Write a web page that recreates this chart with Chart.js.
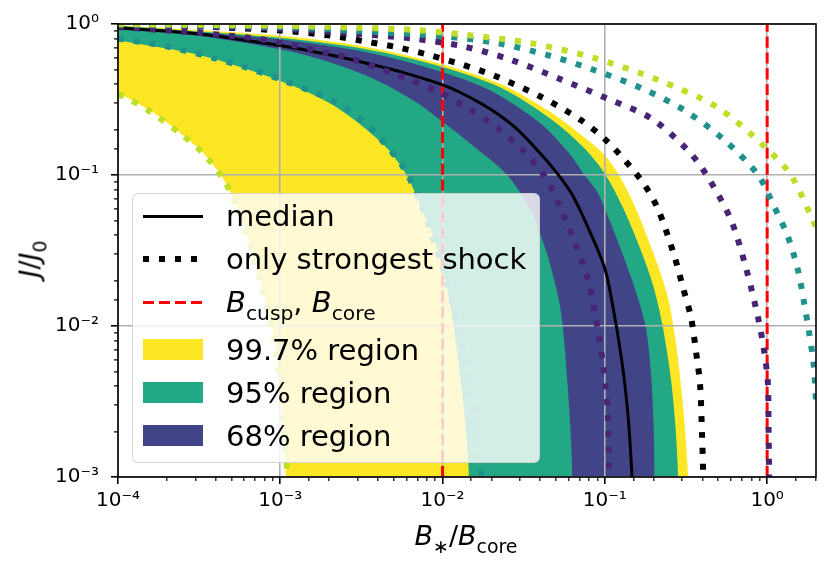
<!DOCTYPE html>
<html>
<head>
<meta charset="utf-8">
<script src="https://cdn.jsdelivr.net/npm/chart.js@4.4.1/dist/chart.umd.min.js"></script>
<style>
  body { margin: 0; background: #fff; }
  #wrap { position: relative; width: 831px; height: 568px; font-family: 'DejaVu Sans', sans-serif; color: #000; }
  #jChart { position: absolute; left: 0; top: 0; }
  sub { font-size: 70%; vertical-align: -0.4em; line-height: 0; font-style: normal; }
  #yTitle, #xTitle { position: absolute; font-size: 27px; line-height: 1; white-space: nowrap; }
  #yTitle { left: 29px; top: 259px; transform: translate(-50%, -50%) rotate(-90deg); }
  #xTitle { left: 466px; top: 522px; transform: translateX(-50%); }
  #legend { position: absolute; left: 132px; top: 193px; width: 408px; height: 270px; box-sizing: border-box;
            background: rgba(255,255,255,0.8); border: 1px solid rgba(204,204,204,0.8); border-radius: 6px; }
  .row { position: absolute; left: 0; height: 44px; display: flex; align-items: center; font-size: 29px; white-space: nowrap; }
  .h { display: block; width: 60px; margin-left: 9.7px; margin-right: 23.3px; }
  .solid { height: 3px; background: #000; }
  .dots { height: 6px; background: repeating-linear-gradient(90deg, #000 0 6px, transparent 6px 15.9px); }
  .dash { height: 3px; background: repeating-linear-gradient(90deg, #ff0000 0 11.1px, transparent 11.1px 15.9px); }
  .patch { height: 21px; }
</style>
</head>
<body>
<div id="wrap">
  <canvas id="jChart" width="831" height="568"></canvas>
  <div id="yTitle"><i>J</i>/<i>J</i><sub>0</sub></div>
  <div id="xTitle"><i>B</i><sub>∗</sub>/<i>B</i><sub>core</sub></div>
  <div id="legend">
    <div class="row" style="top:0px"><span class="h solid"></span><span>median</span></div>
    <div class="row" style="top:43px"><span class="h dots"></span><span>only strongest shock</span></div>
    <div class="row" style="top:86px"><span class="h dash"></span><span><i>B</i><sub>cusp</sub>, <i>B</i><sub>core</sub></span></div>
    <div class="row" style="top:133.5px"><span class="h patch" style="background:#fde725"></span><span>99.7% region</span></div>
    <div class="row" style="top:176.5px"><span class="h patch" style="background:#22a884"></span><span>95% region</span></div>
    <div class="row" style="top:219.5px"><span class="h patch" style="background:#414487"></span><span>68% region</span></div>
  </div>
</div>
<script>
// axis ranges and tick labels
const xSpan = [1e-4, 2];
const ySpan = [1e-3, 1];
const xTickVals = [1e-4, 1e-3, 1e-2, 1e-1, 1];
const xTickLabels = ['10⁻⁴', '10⁻³', '10⁻²', '10⁻¹', '10⁰'];
const yTickVals = [1e-3, 1e-2, 1e-1, 1];
const yTickLabels = ['10⁻³', '10⁻²', '10⁻¹', '10⁰'];

// B_cusp, B_core
const cuspCore = [0.01, 1];

// median of all shocks  [B*/Bcore, J/J0]
const median = [[1e-4,0.945],[3.16e-4,0.86],[1e-3,0.72],[2e-3,0.625],[3.16e-3,0.56],[5.6e-3,0.48],[0.01,0.395],
  [0.0141,0.335],[0.02,0.27],[0.0282,0.205],[0.0398,0.14],[0.05,0.105],[0.063,0.074],[0.0794,0.044],[0.1,0.024],
  [0.112,0.0135],[0.126,0.0063],[0.135,0.0035],[0.141,0.0021],[0.147,0.001],[0.149,0.0007]];

// credible regions: upper and lower edges
const upper997 = [[1e-4,0.98],[1e-3,0.835],[3.4e-3,0.705],[0.01,0.54],[0.0228,0.4],[0.0465,0.26],[0.0785,0.17],
  [0.1,0.135],[0.122,0.1],[0.15,0.065],[0.2,0.03],[0.244,0.0156],[0.274,0.0077],[0.302,0.0031],[0.324,0.0011],[0.328,0.0005]];
const lower997 = [[1e-4,0.35],[1.64e-4,0.26],[2.41e-4,0.19],[3.35e-4,0.14],[4.57e-4,0.09],[5.8e-4,0.05],
  [7.2e-4,0.0235],[9.1e-4,0.0085],[1.02e-3,0.0031],[1.08e-3,0.0011],[1.09e-3,0.0005]];
const upper95 = [[1e-4,0.975],[1e-3,0.81],[3.4e-3,0.68],[0.01,0.52],[0.0228,0.38],[0.0465,0.235],[0.075,0.15],
  [0.1,0.102],[0.13,0.06],[0.17,0.03],[0.2,0.018],[0.227,0.01],[0.255,0.0045],[0.272,0.0022],[0.283,0.001],[0.286,0.0005]];
const lower95 = [[1e-4,0.78],[3.2e-4,0.62],[1e-3,0.42],[2.12e-3,0.29],[4.3e-3,0.16],[6e-3,0.1],[7.5e-3,0.058],
  [8.8e-3,0.039],[0.0111,0.0142],[0.0134,0.0031],[0.0145,0.0011],[0.0147,0.0005]];
const upper68 = [[1e-4,0.965],[1e-3,0.79],[3.4e-3,0.65],[0.01,0.48],[0.02,0.36],[0.04,0.22],[0.06,0.14],[0.075,0.1],
  [0.09,0.077],[0.107,0.05],[0.13,0.029],[0.155,0.017],[0.178,0.01],[0.192,0.005],[0.2,0.0021],[0.202,0.001],[0.203,0.0005]];
const lower68 = [[1e-4,0.92],[3e-4,0.84],[1e-3,0.68],[2e-3,0.56],[4e-3,0.42],[7e-3,0.3],[0.01,0.225],[0.015,0.16],
  [0.025,0.1],[0.035,0.058],[0.042,0.035],[0.047,0.0235],[0.052,0.015],[0.055,0.01],[0.059,0.004],[0.062,0.0017],
  [0.063,0.001],[0.0633,0.0005]];

// only strongest shock: median and region edges
const strongMedian = [[1e-4,0.985],[3e-4,0.965],[1e-3,0.905],[2.08e-3,0.835],[3.37e-3,0.765],[5.3e-3,0.7],[8.4e-3,0.62],
  [0.0132,0.538],[0.0206,0.457],[0.0403,0.33],[0.0711,0.231],[0.104,0.166],[0.167,0.0927],[0.211,0.0605],[0.267,0.0295],
  [0.302,0.0182],[0.34,0.0113],[0.365,0.0067],[0.386,0.0041],[0.397,0.0019],[0.403,0.0011],[0.405,0.0007]];
const strongLow68 = [[1e-4,0.955],[2.5e-4,0.89],[6.5e-4,0.81],[1.03e-3,0.75],[1.64e-3,0.67],[2.58e-3,0.6],[4e-3,0.51],
  [6.1e-3,0.434],[9.4e-3,0.355],[0.0145,0.275],[0.0217,0.205],[0.031,0.147],[0.042,0.1],[0.0518,0.065],[0.068,0.032],
  [0.0795,0.0195],[0.0906,0.0094],[0.0972,0.0057],[0.1027,0.0034],[0.105,0.0021],[0.106,0.0012],[0.1062,0.0007]];
const strongHigh68 = [[1e-4,0.99],[1e-3,0.93],[3e-3,0.86],[6.6e-3,0.8],[0.0135,0.71],[0.0263,0.58],[0.0535,0.43],
  [0.104,0.32],[0.192,0.238],[0.324,0.146],[0.43,0.0975],[0.6,0.05],[0.741,0.0242],[0.877,0.0115],[0.957,0.0069],
  [1.01,0.0042],[1.02,0.0021],[1.027,0.0012],[1.028,0.0007]];
const strongLow95 = [[1e-4,0.8],[2e-4,0.71],[4e-4,0.59],[6e-4,0.52],[1e-3,0.43],[2.12e-3,0.31],[3.2e-3,0.23],
  [4.3e-3,0.166],[5.8e-3,0.11],[7.3e-3,0.0653],[0.0101,0.0235],[0.0129,0.0085],[0.0153,0.0031],[0.0172,0.0011],[0.0176,0.0007]];
const strongHigh95 = [[1e-4,0.995],[1e-3,0.955],[3e-3,0.9],[0.0107,0.824],[0.0217,0.748],[0.0443,0.623],[0.0855,0.496],
  [0.167,0.377],[0.308,0.269],[0.543,0.171],[0.879,0.1],[1.104,0.0617],[1.343,0.039],[1.548,0.0235],[1.69,0.0142],
  [1.816,0.009],[1.94,0.0054],[2.0,0.0032],[2.1,0.0018]];
const strongLow997 = [[1e-4,0.34],[1.1e-4,0.33],[1.64e-4,0.256],[2.41e-4,0.189],[3.35e-4,0.139],[4.57e-4,0.09],
  [5.8e-4,0.05],[7.2e-4,0.0235],[9.1e-4,0.0085],[1.02e-3,0.0031],[1.1e-3,0.0011],[1.11e-3,0.0007]];
const strongHigh997 = [[1e-4,0.998],[1e-3,0.975],[3e-3,0.945],[6.8e-3,0.913],[0.014,0.846],[0.0347,0.748],[0.0855,0.596],
  [0.213,0.426],[0.5,0.278],[1.01,0.147],[1.41,0.0985],[1.91,0.0504],[2.1,0.04]];

const pts = arr => arr.map(([x, y]) => ({x, y}));
const band = (up, low) => pts(up.concat(low.slice().reverse()));
const isDecade = v => Math.abs(Math.log10(v) - Math.round(Math.log10(v))) < 1e-6;
const labelFor = (vals, labels) => v => {
  const i = vals.findIndex(t => Math.abs(Math.log10(t) - Math.log10(v)) < 1e-6);
  return i >= 0 ? labels[i] : '';
};

function region(up, low, color, order) {
  return {data: band(up, low), showLine: true, fill: 'shape', backgroundColor: color,
          borderWidth: 0, pointRadius: 0, tension: 0.3, order: order, clip: 0};
}
function curve(data, color, width, dash, order) {
  return {data: data, showLine: true, fill: false, borderColor: color, borderWidth: width, tension: 0.3,
          borderDash: dash, borderCapStyle: 'butt', pointRadius: 0, order: order, clip: 0};
}

const DOTS = [6, 9.9];
const datasets = [
  region(upper997, lower997, '#fde725', 30),
  region(upper95, lower95, '#22a884', 29),
  region(upper68, lower68, '#414487', 28),
  ...cuspCore.map(v => curve([{x: v, y: ySpan[0]}, {x: v, y: ySpan[1]}], '#ff0000', 3, [11.1, 4.8], 10)),
  curve(pts(median), '#000000', 3, [], 6),
  curve(pts(strongMedian), '#000000', 6, DOTS, 5),
  curve(pts(strongLow68), '#482475', 6, DOTS, 4),
  curve(pts(strongHigh68), '#482475', 6, DOTS, 4),
  curve(pts(strongLow95), '#21918c', 6, DOTS, 3),
  curve(pts(strongHigh95), '#21918c', 6, DOTS, 3),
  curve(pts(strongLow997), '#bddf26', 6, DOTS, 2),
  curve(pts(strongHigh997), '#bddf26', 6, DOTS, 2)
];

const frame = {
  id: 'frame',
  afterDatasetsDraw(chart) {
    const {ctx, chartArea: a} = chart;
    ctx.save();
    ctx.strokeStyle = '#000';
    ctx.lineWidth = 1.6;
    ctx.strokeRect(a.left, a.top, a.right - a.left, a.bottom - a.top);
    ctx.restore();
  }
};

function gridOpts(minorDash) {
  return {
    color: c => (c.tick && isDecade(c.tick.value)) ? '#b0b0b0' : 'rgba(0,0,0,0)',
    lineWidth: 1.6,
    tickColor: '#000',
    tickLength: 7,
    tickWidth: c => (c.tick && isDecade(c.tick.value)) ? 1.6 : 1.2,
    tickBorderDash: c => (c.tick && isDecade(c.tick.value)) ? [] : minorDash
  };
}

new Chart(document.getElementById('jChart'), {
  type: 'scatter',
  data: {datasets: datasets},
  options: {
    responsive: false,
    animation: false,
    devicePixelRatio: 1,
    events: [],
    layout: {padding: {left: 0, right: 15, top: 24, bottom: 0}},
    plugins: {legend: {display: false}, tooltip: {enabled: false}, filler: {drawTime: 'beforeDraw'}},
    scales: {
      x: {
        type: 'logarithmic', min: xSpan[0], max: xSpan[1],
        border: {display: false},
        grid: gridOpts([4, 100]),
        ticks: {autoSkip: false, maxRotation: 0, padding: 5, color: '#000',
                font: {family: 'DejaVu Sans', size: 20}, callback: labelFor(xTickVals, xTickLabels)},
        afterFit: s => { s.height = 91; }
      },
      y: {
        type: 'logarithmic', min: ySpan[0], max: ySpan[1],
        border: {display: false},
        grid: gridOpts([0, 3, 4, 100]),
        ticks: {autoSkip: false, padding: 12, color: '#000',
                font: {family: 'DejaVu Sans', size: 20}, callback: labelFor(yTickVals, yTickLabels)},
        afterFit: s => { s.width = 118; }
      }
    }
  },
  plugins: [frame]
});
</script>
</body>
</html>
